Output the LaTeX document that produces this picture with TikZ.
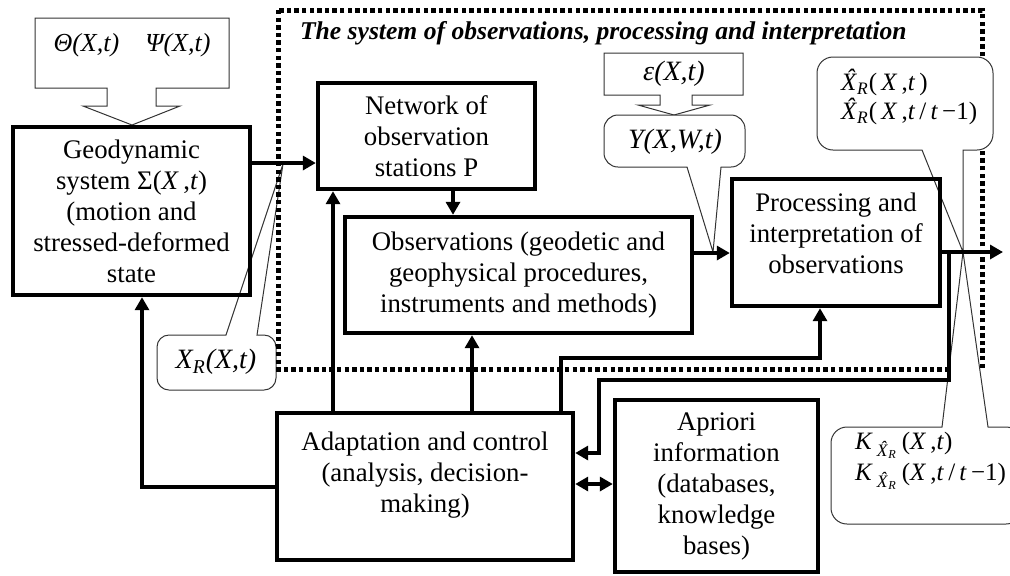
\documentclass[tikz,border=0pt]{standalone}
\usepackage{fontspec}
\setmainfont{Liberation Serif}
\usetikzlibrary{arrows.meta}
\newcommand{\hatX}{\textit{\makebox[0pt][l]{\kern0.2em\raisebox{0.17em}{ˆ}}X}}
\newcommand{\Rsub}{\textsubscript{\textit{R}}}
\begin{document}
\begin{tikzpicture}[x=0.5pt,y=-0.5pt,
 every node/.style={font=\fontsize{13.4}{15.5}\selectfont},
 blk/.style={draw,line width=2.2pt,align=center,inner sep=0pt},
 flow/.style={line width=2pt,-{Triangle[length=6.5pt,width=7pt]}},
 callout/.style={draw=black!80,line width=0.5pt,fill=white},
 frame/.style={line width=2.5pt,dash pattern=on 2.2pt off 1.6pt},
 formula/.style={font=\fontsize{14}{15}\selectfont\itshape}]
\useasboundingbox (0,0) rectangle (1010,575);
% X_R callout lies under the frame
\draw[callout] (157,362) [rounded corners=6pt] -- (157,335) [sharp corners] -- (226,335) -- (283,164) -- (257,335) [rounded corners=6pt] -- (276,335) -- (276,390) -- (157,390) -- (157,362);
\node[formula] (xr) at (216,362) {X\Rsub(X,t)};
\draw[frame] (278,10) rectangle (982,369);
\node[anchor=west,font=\fontsize{12.8}{15}\selectfont\bfseries\itshape] (ttl) at (293,33) {The system of observations, processing and interpretation};
% callouts
\draw[callout] (35,18) -- (229,18) -- (229,88) -- (156,88) -- (156,106) -- (180,106) -- (132,125) -- (83,106) -- (107,106) -- (107,88) -- (35,88) -- cycle;
\node[formula,font=\fontsize{13}{15}\selectfont\itshape] (ext) at (132,45) {Θ(X,t)\quad Ψ(X,t)};
\draw[callout] (604,53) -- (743,53) -- (743,95) -- (692,95) -- (692,105) -- (710,105) -- (674,115) -- (638,105) -- (660,105) -- (660,95) -- (604,95) -- cycle;
\node[formula] (err) at (674,74) {ε(X,t)};
\draw[callout] (604,141) [rounded corners=7pt] -- (604,115) -- (745,115) -- (745,167) [sharp corners] -- (721,167) -- (713,252) -- (687,167) [rounded corners=7pt] -- (604,167) -- (604,141);
\node[formula] (yv) at (675,142) {Y(X,W,t)};
\draw[callout] (817,100) [rounded corners=8pt] -- (817,57) -- (993,57) -- (993,150) [sharp corners] -- (963,150) -- (963,252) -- (922,150) [rounded corners=8pt] -- (817,150) -- (817,100);
\node[anchor=west,align=left,font=\fontsize{12.5}{14.5}\selectfont] (xhat) at (834,97) {\hatX\Rsub(\,\textit{X}\,,\textit{t}\,)\\\hatX\Rsub(\,\textit{X}\,,\textit{t}\,/\,\textit{t}\,−1)};
\draw[callout] (831,475) [rounded corners=8pt] -- (831,427) [sharp corners] -- (942,427) -- (963,252) -- (988,427) [rounded corners=8pt] -- (1022,427) -- (1022,524) -- (831,524) -- (831,475);
\node[anchor=west,align=left,font=\fontsize{12.5}{15.5}\selectfont] (kx) at (848,461) {\textit{K}\,\textsubscript{\hatX\Rsub}\,(\textit{X}\,,\textit{t})\\\textit{K}\,\textsubscript{\hatX\Rsub}\,(\textit{X}\,,\textit{t}\,/\,\textit{t}\,−1)};
% blocks
\node[blk,minimum width=118.5pt,minimum height=84pt] (geo) at (131.5,211) {Geodynamic\\system Σ(\textit{X}\,,\textit{t})\\(motion and\\stressed-deformed\\state};
\node[blk,minimum width=108.5pt,minimum height=53pt] (net) at (426.5,136) {Network of\\observation\\stations P};
\node[blk,minimum width=173.5pt,minimum height=58pt] (obs) at (518.5,275) {Observations (geodetic and\\geophysical procedures,\\instruments and methods)};
\node[blk,minimum width=104pt,minimum height=63.5pt] (proc) at (836,242.5) {Processing and\\interpretation of\\observations\\[-6pt]\mbox{}};
\node[blk,minimum width=148pt,minimum height=73.5pt] (adapt) at (425,486.5) {Adaptation and control\\(analysis, decision-\\making)\\[-1pt]\mbox{}};
\node[blk,minimum width=101.5pt,minimum height=86pt] (apr) at (716.5,486) {Apriori\\information\\(databases,\\knowledge\\bases)};
% connectors
\coordinate (hGN) at (0,163);
\coordinate (vNO) at (453,0);
\coordinate (hOP) at (0,253);
\coordinate (tap) at (949,252);
\coordinate (out) at (1003,252);
\coordinate (vAG) at (142,0);
\coordinate (vAN) at (333,0);
\coordinate (vAO) at (472,0);
\coordinate (vAP) at (561,0);
\coordinate (bAP) at (820,358);
\coordinate (bPA) at (599,380);
\coordinate (hPA) at (0,453);
\coordinate (hAA) at (0,484);
\draw[flow] (geo.east |- hGN) -- (net.west |- hGN);
\draw[flow] (net.south -| vNO) -- (obs.north -| vNO);
\draw[flow] (obs.east |- hOP) -- (proc.west |- hOP);
\draw[flow] (proc.east |- tap) -- (out);
\draw[flow] (adapt.west) -| (geo.south -| vAG);
\draw[flow] (adapt.north -| vAN) -- (net.south -| vAN);
\draw[flow] (adapt.north -| vAO) -- (obs.south -| vAO);
\draw[flow] (adapt.north -| vAP) |- (bAP) -- (proc.south -| bAP);
\draw[flow] (tap) |- (bPA) |- (adapt.east |- hPA);
\draw[flow,{Triangle[length=6.5pt,width=7pt]}-{Triangle[length=6.5pt,width=7pt]}] (adapt.east |- hAA) -- (apr.west |- hAA);
\end{tikzpicture}
\end{document}
